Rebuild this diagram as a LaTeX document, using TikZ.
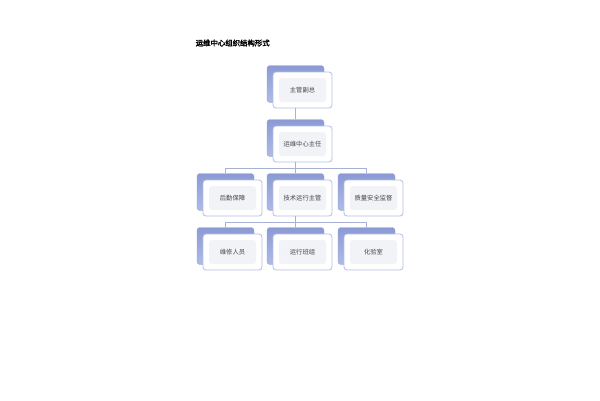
\documentclass[tikz,border=0pt]{standalone}
\usepackage{fontspec}
\newfontfamily\cjk{Noto Sans CJK SC}
\newfontfamily\cjkb[FakeBold=2.5]{Noto Sans CJK SC}
\usetikzlibrary{calc}
\definecolor{backA}{HTML}{8B9AD4}
\definecolor{backB}{HTML}{B0BBE6}
\definecolor{frontborder}{HTML}{B4BEE3}
\definecolor{innerfill}{HTML}{F2F3F7}
\definecolor{connc}{HTML}{A7B1D6}
\definecolor{txt}{HTML}{444444}
\tikzset{
  backbox/.style={minimum width=57pt, minimum height=37pt, rounded corners=3pt,
    top color=backA, bottom color=backB, draw=backA!90, line width=0.4pt, inner sep=0pt},
  frontbox/.style={minimum width=59pt, minimum height=36pt, rounded corners=3pt,
    fill=white, draw=frontborder, line width=0.8pt, inner sep=0pt,
    font=\cjk\fontsize{6.3}{7}\selectfont, text=txt,
    path picture={\fill[innerfill] ([shift={(6pt,6pt)}]path picture bounding box.south west)
      rectangle ([shift={(-6pt,-6pt)}]path picture bounding box.north east);}},
  conn/.style={draw=connc, line width=0.6pt}
}
\begin{document}
\begin{tikzpicture}[x=1pt,y=-1pt]
\useasboundingbox[fill=white] (0,0) rectangle (600,400);
\node[anchor=west, font=\cjkb\fontsize{7.4}{8}\selectfont, text=black, inner sep=0pt] (title) at (195.5,43) {运维中心组织结构形式};
% backs
\node[backbox] (b1) at (295.5,84) {};
\node[backbox] (b2) at (295.5,138) {};
\node[backbox] (b3) at (225.5,192) {};
\node[backbox] (b4) at (295.5,192) {};
\node[backbox] (b5) at (366.5,192) {};
\node[backbox] (b6) at (225.5,246) {};
\node[backbox] (b7) at (295.5,246) {};
\node[backbox] (b8) at (366.5,246) {};
% fronts
\node[frontbox] (f1) at (302.5,90) {主管副总};
\node[frontbox] (f2) at (302.5,144) {运维中心主任};
\node[frontbox] (f3) at (232.5,198) {后勤保障};
\node[frontbox] (f4) at (302.5,198) {技术运行主管};
\node[frontbox] (f5) at (373.5,198) {质量安全监督};
\node[frontbox] (f6) at (232.5,252) {维修人员};
\node[frontbox] (f7) at (302.5,252) {运行班组};
\node[frontbox] (f8) at (373.5,252) {化验室};
% connectors
\draw[conn] (b2.north |- f1.south) -- (b2.north);
\coordinate (h1) at ($(b4.north |- f2.south)!0.5!(b4.north)$);
\draw[conn] (b4.north |- f2.south) -- (b4.north);
\draw[conn] (b3.north) |- (h1) -| (b5.north);
\coordinate (h2) at ($(b7.north |- f4.south)!0.5!(b7.north)$);
\draw[conn] (b7.north |- f4.south) -- (b7.north);
\draw[conn] (b6.north) |- (h2) -| (b8.north);
\end{tikzpicture}
\end{document}
